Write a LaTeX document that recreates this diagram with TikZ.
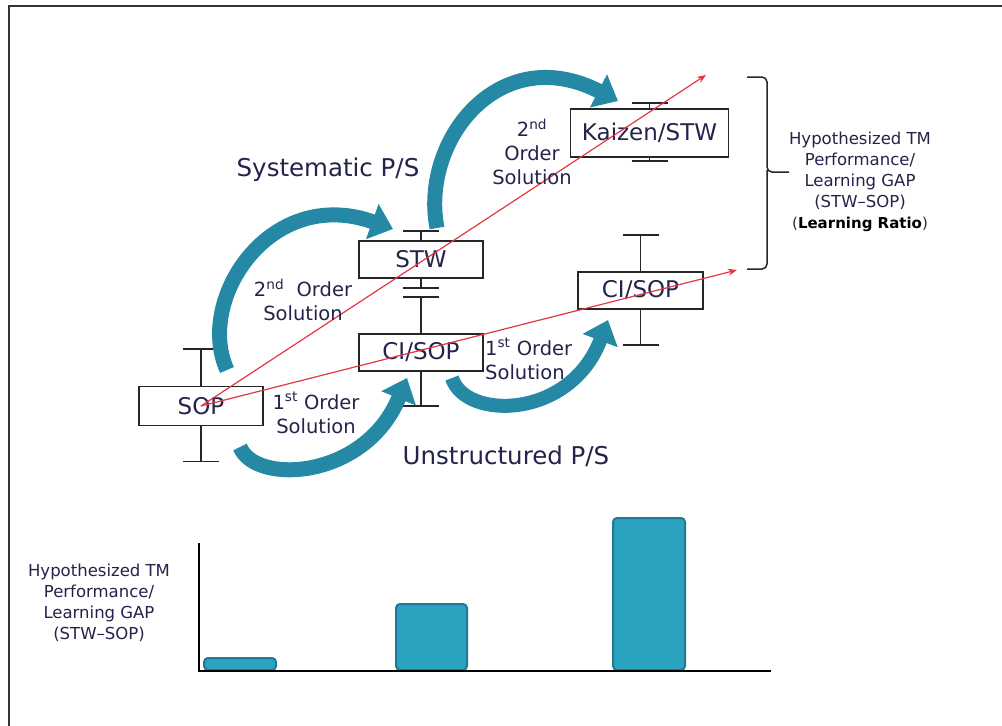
\documentclass[tikz,border=0pt]{standalone}
\usepackage{fontspec}
\setmainfont{DejaVu Sans}
\usetikzlibrary{arrows.meta}

\definecolor{ink}{RGB}{35,35,75}
\definecolor{loopteal}{RGB}{37,137,166}
\definecolor{barfill}{RGB}{43,163,192}
\definecolor{baredge}{RGB}{33,122,148}
\definecolor{gapred}{RGB}{228,55,70}

\newcommand\fsz[2]{\fontsize{#1}{#2}\selectfont}

\begin{document}
\begin{tikzpicture}[x=1pt,y=-1pt,
  stage/.style={draw=black!85,line width=1.8pt,inner sep=0pt,text=ink,font=\fsz{23}{27}},
  whisker/.style={draw=black!85,line width=1.8pt},
  loop/.style={draw=loopteal,line width=15pt,-{Triangle[width=36pt,length=22pt]}},
  gap/.style={draw=gapred,line width=1.2pt,-{Stealth[length=9pt,width=7pt]}},
  lbl/.style={text=ink,font=\fsz{19.5}{24},align=center,inner sep=0pt},
  big/.style={text=ink,font=\fsz{24.5}{29},inner sep=0pt},
  note/.style={text=ink,font=\fsz{16.5}{21},align=center,inner sep=0pt},
  bar/.style={fill=barfill,draw=baredge,line width=2pt,rounded corners=4pt},
]
\useasboundingbox (0,0) rectangle (1002,726);

% page frame (top and left edges)
\draw[line width=2.2pt,black!80] (9,726) -- (9,6) -- (1002,6);

% stages
\node[stage,minimum width=124pt,minimum height=39pt] (sop) at (201,406) {SOP};
\node[stage,minimum width=124pt,minimum height=37pt] (stw) at (421,259.5) {STW};
\node[stage,minimum width=124pt,minimum height=37pt] (cim) at (421,352.5) {CI/SOP};
\node[stage,minimum width=158pt,minimum height=48pt] (kz) at (649.5,133) {Kaizen/STW};
\node[stage,minimum width=125pt,minimum height=37pt] (cir) at (640.5,290.5) {CI/SOP};

% range whiskers
\draw[whisker] (sop.north) -- ++(0,-37) ++(-18,0) -- ++(36,0);
\draw[whisker] (sop.south) -- ++(0,35) ++(-18,0) -- ++(36,0);
\draw[whisker] (stw.north) -- ++(0,-9) ++(-18,0) -- ++(36,0);
\draw[whisker] (stw.south) -- ++(0,9) ++(-18,0) -- ++(36,0);
\draw[whisker] (cim.north) -- ++(0,-36) ++(-18,0) -- ++(36,0);
\draw[whisker] (cim.south) -- ++(0,34) ++(-18,0) -- ++(36,0);
\draw[whisker] (kz.north) -- ++(0,-5) ++(-18,0) -- ++(36,0);
\draw[whisker] (kz.south) -- ++(0,3) ++(-18,0) -- ++(36,0);
\draw[whisker] (cir.north) -- ++(0,-36) ++(-18,0) -- ++(36,0);
\draw[whisker] (cir.south) -- ++(0,35) ++(-18,0) -- ++(36,0);

% solution loops
\coordinate (t1) at (240,447);  \coordinate (h1) at (407,378);
\coordinate (t2) at (227,370);  \coordinate (h2) at (393,229);
\coordinate (t3) at (437,228);  \coordinate (h3) at (618,101);
\coordinate (t4) at (452,378);  \coordinate (h4) at (608,320);
\draw[loop] (t1) .. controls (255,485) and (365,480) .. (h1);
\draw[loop] (t2) .. controls (195,300) and (270,185) .. (h2);
\draw[loop] (t3) .. controls (420,140) and (500,40) .. (h3);
\draw[loop,line width=14pt] (t4) .. controls (465,420) and (570,420) .. (h4);

% learning gap lines
\coordinate (g1) at (706,75);
\coordinate (g2) at (737,270);
\draw[gap] (sop.center) -- (g1);
\draw[gap] (sop.center) -- (g2);

% brace
\draw[line width=1.5pt,black!85,rounded corners=5pt]
  (747,77) -- (767,77) -- (767,172) -- (789,172);
\draw[line width=1.5pt,black!85,rounded corners=5pt]
  (767,170) -- (767,269) -- (747,269);

% labels
\node[big] (sys) at (328,170) {Systematic P/S};
\node[big] (uns) at (506,456) {Unstructured P/S};
\node[lbl] (o2a) at (532,152) {2\textsuperscript{nd}\\Order\\Solution};
\node[lbl] (o2b) at (303,300) {2\textsuperscript{nd}~~Order\\Solution};
\node[lbl] (o1a) at (316,413) {1\textsuperscript{st} Order\\Solution};
\node[lbl,align=left,anchor=west] (o1b) at (485,359) {1\textsuperscript{st} Order\\Solution};

\node[note] (gapnote) at (860,181.5) {Hypothesized TM\\Performance/\\Learning GAP\\(STW\textendash SOP)\\{\fsz{15}{21}(\textbf{\color{black}Learning Ratio})}};

% bar chart
\draw[bar] (204,658) rectangle (276,670);
\draw[bar] (396,604) rectangle (467,670);
\draw[bar] (613,518) rectangle (685,670);
\draw[line width=2pt,black] (199,543) -- (199,671) -- (771,671);
\node[note] (chartnote) at (99,603) {Hypothesized TM\\Performance/\\Learning GAP\\(STW\textendash SOP)};

\end{tikzpicture}
\end{document}
